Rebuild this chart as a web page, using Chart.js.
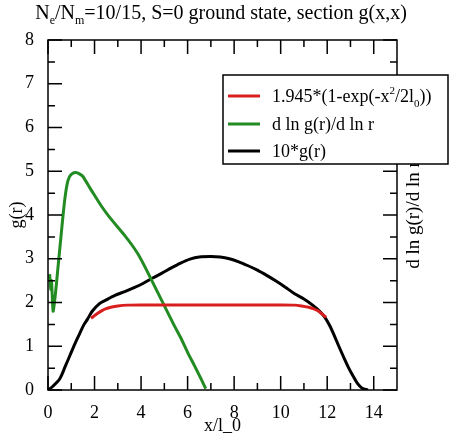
<!DOCTYPE html>
<html>
<head>
<meta charset="utf-8">
<script src="https://cdn.jsdelivr.net/npm/chart.js@4/dist/chart.umd.min.js"></script>
<style>
  html, body { margin: 0; padding: 0; background: #fff; }
</style>
</head>
<body>
<canvas id="chart" width="452" height="441"></canvas>
<script>
// tick values
const xTicks = [0, 2, 4, 6, 8, 10, 12, 14];
const xMinor = [1, 3, 5, 7, 9, 11, 13];
const yTicks = [0, 1, 2, 3, 4, 5, 6, 7, 8];
const yMinor = [0.5, 1.5, 2.5, 3.5, 4.5, 5.5, 6.5, 7.5];

// 1.945*(1-exp(-x^2/2l0))
const redX = [1.85, 2.0, 2.15, 2.3, 2.5, 2.7, 3.0, 3.4, 4.0, 6.0, 8.0, 10.0, 10.6, 10.9, 11.2, 11.4, 11.6, 11.8, 11.95];
const redY = [1.64, 1.7, 1.76, 1.81, 1.86, 1.89, 1.92, 1.94, 1.945, 1.945, 1.945, 1.945, 1.94, 1.92, 1.89, 1.86, 1.81, 1.73, 1.66];

// d ln g(r)/d ln r
const greenX = [0.07, 0.12, 0.15, 0.22, 0.32, 0.42, 0.52, 0.62, 0.72, 0.82, 0.92, 1.05, 1.2, 1.35, 1.5, 1.8, 2.0, 2.3,
                2.6, 3.0, 3.3, 3.6, 3.9, 4.2, 4.5, 4.8, 5.1, 5.4, 5.7, 6.0, 6.3, 6.6, 6.78];
const greenY = [2.65, 2.3, 2.5, 1.8, 2.2, 2.75, 3.3, 3.85, 4.35, 4.7, 4.87, 4.95, 4.97, 4.94, 4.88, 4.62, 4.45, 4.2,
                3.98, 3.72, 3.53, 3.32, 3.08, 2.78, 2.46, 2.14, 1.82, 1.5, 1.2, 0.86, 0.55, 0.23, 0.03];

// 10*g(r)
const blackX = [0, 0.2, 0.5, 0.75, 0.95, 1.15, 1.37, 1.55, 1.7, 1.9, 2.2, 2.5, 2.9, 3.3, 3.7, 4.1, 4.5, 4.9, 5.3, 5.7,
                6.1, 6.5, 7.0, 7.4, 7.8, 8.2, 8.6, 9.0, 9.4, 9.8, 10.2, 10.6, 11.0, 11.4, 11.7, 11.9, 12.1, 12.3,
                12.5, 12.7, 12.9, 13.1, 13.3, 13.5, 13.75];
const blackY = [0, 0.08, 0.25, 0.55, 0.8, 1.05, 1.3, 1.5, 1.62, 1.8, 1.97, 2.06, 2.17, 2.25, 2.34, 2.44, 2.56, 2.67, 2.79, 2.9,
                2.99, 3.04, 3.05, 3.04, 3.0, 2.93, 2.84, 2.74, 2.62, 2.49, 2.35, 2.2, 2.08, 1.93, 1.79, 1.66, 1.48, 1.25,
                1.0, 0.76, 0.53, 0.33, 0.15, 0.04, 0];

const RED = "#d81e1e";
const GREEN = "#228b22";
const SERIF = "'Liberation Serif', 'DejaVu Serif', serif";

const pts = (xs, ys) => xs.map((x, i) => ({ x: x, y: ys[i] }));

// draw a run of text pieces; shift moves baseline (+ down), size in px
function drawPieces(ctx, pieces, x, y) {
  let cx = x;
  pieces.forEach(p => {
    ctx.font = p.size + "px " + SERIF;
    ctx.fillText(p.t, cx, y + (p.shift || 0));
    cx += ctx.measureText(p.t).width;
  });
  return cx - x;
}
function piecesWidth(ctx, pieces) {
  let w = 0;
  pieces.forEach(p => {
    ctx.font = p.size + "px " + SERIF;
    w += ctx.measureText(p.t).width;
  });
  return w;
}

const titlePieces = [
  { t: "N", size: 20 }, { t: "e", size: 12, shift: 5 },
  { t: "/N", size: 20 }, { t: "m", size: 12, shift: 5 },
  { t: "=10/15, S=0 ground state, section g(x,x)", size: 20 }
];

const legendRows = [
  { color: RED, pieces: [{ t: "1.945*(1-exp(-x", size: 18 }, { t: "2", size: 11, shift: -8 },
                         { t: "/2l", size: 18 }, { t: "0", size: 11, shift: 5 }, { t: "))", size: 18 }] },
  { color: GREEN, pieces: [{ t: "d ln g(r)/d ln r", size: 18 }] },
  { color: "#000", pieces: [{ t: "10*g(r)", size: 18 }] }
];

const decor = {
  id: "decor",
  afterDraw(chart) {
    const ctx = chart.ctx;
    const a = chart.chartArea;
    const xs = chart.scales.x, ys = chart.scales.y;
    ctx.save();
    ctx.strokeStyle = "#000";
    ctx.fillStyle = "#000";
    ctx.lineWidth = 1.5;
    // frame
    ctx.strokeRect(a.left, a.top, a.right - a.left, a.bottom - a.top);
    // inward ticks, mirrored on all sides
    ctx.beginPath();
    const tx = (v, len) => {
      const p = xs.getPixelForValue(v);
      ctx.moveTo(p, a.bottom); ctx.lineTo(p, a.bottom - len);
      ctx.moveTo(p, a.top); ctx.lineTo(p, a.top + len);
    };
    const ty = (v, len) => {
      const p = ys.getPixelForValue(v);
      ctx.moveTo(a.left, p); ctx.lineTo(a.left + len, p);
      ctx.moveTo(a.right, p); ctx.lineTo(a.right - len, p);
    };
    xTicks.forEach(v => tx(v, 14));
    xMinor.forEach(v => tx(v, 7));
    yTicks.forEach(v => ty(v, 14));
    yMinor.forEach(v => ty(v, 7));
    ctx.stroke();

    // title
    ctx.textBaseline = "alphabetic";
    ctx.textAlign = "left";
    const tw = piecesWidth(ctx, titlePieces);
    drawPieces(ctx, titlePieces, 221 - tw / 2, 19);

    // right axis label, reading bottom to top; its end sits under the legend
    ctx.save();
    ctx.translate(414, 215);
    ctx.rotate(-Math.PI / 2);
    ctx.font = "19px " + SERIF;
    ctx.textAlign = "center";
    ctx.textBaseline = "middle";
    ctx.fillText("d ln g(r)/d ln r", 0, 0);
    ctx.restore();

    // legend box
    const lx = 223, ly = 75, lw = 225, lh = 89;
    ctx.fillStyle = "#fff";
    ctx.fillRect(lx, ly, lw, lh);
    ctx.strokeStyle = "#000";
    ctx.lineWidth = 1.5;
    ctx.strokeRect(lx, ly, lw, lh);
    const rowY = [96, 124, 151];
    legendRows.forEach((r, i) => {
      ctx.strokeStyle = r.color;
      ctx.lineWidth = 3;
      ctx.beginPath();
      ctx.moveTo(228, rowY[i]);
      ctx.lineTo(260, rowY[i]);
      ctx.stroke();
      ctx.fillStyle = "#000";
      ctx.textBaseline = "alphabetic";
      drawPieces(ctx, r.pieces, 272, rowY[i] + 6);
    });
    ctx.restore();
  }
};

new Chart(document.getElementById("chart"), {
  type: "line",
  data: {
    datasets: [
      { label: "1.945*(1-exp(-x^2/2l0))", data: pts(redX, redY), borderColor: RED, borderWidth: 3,
        pointRadius: 0, fill: false, tension: 0.3 },
      { label: "d ln g(r)/d ln r", data: pts(greenX, greenY), borderColor: GREEN, borderWidth: 3,
        pointRadius: 0, fill: false, tension: 0.2 },
      { label: "10*g(r)", data: pts(blackX, blackY), borderColor: "#000", borderWidth: 3,
        pointRadius: 0, fill: false, tension: 0.3 }
    ]
  },
  options: {
    responsive: false,
    animation: false,
    layout: { padding: { top: 40, left: 0, right: 0, bottom: 0 } },
    plugins: { legend: { display: false }, tooltip: { enabled: false } },
    scales: {
      x: {
        type: "linear",
        min: 0,
        max: 15,
        grid: { display: false },
        border: { display: false },
        afterBuildTicks: (s) => { s.ticks = xTicks.map(v => ({ value: v })); },
        afterFit: (s) => { s.height = 51; },
        ticks: { color: "#000", padding: 4, maxRotation: 0, autoSkip: false,
                 font: { family: SERIF, size: 18 } },
        title: { display: true, text: "x/l_0", color: "#000", padding: { top: 0, bottom: 4 },
                 font: { family: SERIF, size: 18 } }
      },
      y: {
        type: "linear",
        position: "left",
        min: 0,
        max: 8,
        grid: { display: false },
        border: { display: false },
        afterBuildTicks: (s) => { s.ticks = yTicks.map(v => ({ value: v })); },
        afterFit: (s) => { s.width = 48; },
        ticks: { color: "#000", padding: 6, autoSkip: false, font: { family: SERIF, size: 18 } },
        title: { display: true, text: "g(r)", color: "#000", padding: { top: 6, bottom: 0 },
                 font: { family: SERIF, size: 18 } }
      },
      y2: {
        type: "linear",
        position: "right",
        min: 0,
        max: 8,
        grid: { display: false },
        border: { display: false },
        ticks: { display: false },
        afterFit: (s) => { s.width = 55; }
      }
    }
  },
  plugins: [decor]
});
</script>
</body>
</html>
